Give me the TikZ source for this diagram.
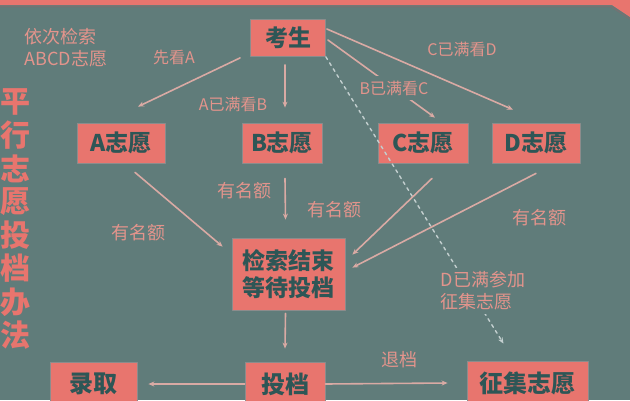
\documentclass[tikz,border=0pt]{standalone}
\usepackage{fontspec}
\setmainfont{Noto Sans CJK SC}
\usetikzlibrary{arrows.meta}
\definecolor{bgteal}{HTML}{607C7A}
\definecolor{boxred}{HTML}{E8756E}
\definecolor{boxtext}{HTML}{2E5656}
\definecolor{arrowpink}{HTML}{D9AAA4}
\definecolor{labelpink}{HTML}{E3948C}
\definecolor{dotgray}{HTML}{C3CFCF}
\begin{document}
\begin{tikzpicture}[x=1pt, y=-1pt, line join=round, line cap=round, >={Stealth[length=6pt,width=5pt]},
	box/.style={draw=black!45, line width=0.8pt, fill=boxred, text=boxtext, inner sep=0pt, align=center,
		font=\fontsize{23}{27}\selectfont\bfseries},
	lowbox/.style={box, minimum height=44pt, font=\fontsize{24}{28}\selectfont\bfseries},
	lbl/.style={text=labelpink, inner sep=1pt, font=\fontsize{18}{22}\selectfont},
	smalllbl/.style={lbl, font=\fontsize{16}{20}\selectfont},
	titlechar/.style={text=boxred, inner sep=0pt, font=\fontsize{30}{30}\selectfont\bfseries},
	arr/.style={->, draw=arrowpink, line width=1.6pt},
	dots/.style={->, draw=dotgray, line width=1.4pt, dash pattern=on 3pt off 4pt}]
	\clip (0,0) rectangle (630,400);
	\fill[bgteal] (0,0) rectangle (630,400);
	\fill[boxred] (0,0) -- (630,0) -- (630,17) -- (612,5) -- (0,5) -- cycle;
	\draw[black!55, line width=1.5pt] (0,6.5) -- (611,6.5) -- (630,19);
	% title
	\foreach \c [count=\i] in {平,行,志,愿,投,档,办,法}
	\node[titlechar] (t\i) at (15,{102+33.3*(\i-1)}) {\c};
	\node[lbl, align=left] (order) at (66,48) {依次检索\\ABCD志愿};
	% boxes
	\node[box, minimum width=75pt, minimum height=37pt] (ks) at (288,38) {考生};
	\node[box, minimum width=88pt, minimum height=40pt] (A) at (121,143) {A志愿};
	\node[box, minimum width=80pt, minimum height=40pt] (B) at (282,143) {B志愿};
	\node[box, minimum width=90pt, minimum height=40pt] (C) at (423,143) {C志愿};
	\node[box, minimum width=88pt, minimum height=40pt] (D) at (536,143) {D志愿};
	\node[box, minimum width=113pt, minimum height=72pt] (js) at (288.5,274) {检索结束\\等待投档};
	\node[lowbox, minimum width=87pt] (lq) at (93.5,384) {录取};
	\node[lowbox, minimum width=80pt] (td) at (285,384) {投档};
	\node[lowbox, minimum width=121pt] (zj) at (527.5,383) {征集志愿};
	% connectors
	\draw[dots] (ks.south east) -- ([xshift=-24pt,yshift=17pt]zj.north);
	\draw[arr] ([xshift=-10pt,yshift=-1pt]ks.south west) -- ([xshift=17pt,yshift=16pt]A.north);
	\draw[arr] ([xshift=-3pt,yshift=-8pt]ks.south) -- ([xshift=3pt,yshift=15pt]B.north);
	\draw[arr] ([xshift=2pt,yshift=-2pt]ks.east) -- ([xshift=12pt,yshift=5pt]C.north);
	\draw[arr] ([xshift=1pt,yshift=9pt]ks.east) -- ([xshift=-23pt,yshift=13pt]D.north);
	\draw[arr] ([xshift=14pt,yshift=-9pt]A.south) -- ([xshift=-9pt,yshift=-9pt]js.north west);
	\draw[arr] ([xshift=3pt,yshift=-15pt]B.south) -- ([xshift=-3pt,yshift=18pt]js.north);
	\draw[arr] ([xshift=9pt,yshift=-15pt]C.south) -- ([xshift=7pt,yshift=-17pt]js.north east);
	\draw[arr] ([yshift=-10pt]D.south) -- ([xshift=7pt,yshift=-30pt]js.north east);
	\draw[arr] ([xshift=-3pt,yshift=-3pt]js.south) -- ([yshift=13pt]td.north);
	\draw[arr] (td.west) -- ([xshift=11pt]lq.east);
	\draw[arr] (td.east) -- ([xshift=-19pt]zj.west);
	% labels
	\node[smalllbl] (la) at (174,57) {先看A};
	\node[smalllbl] (lb) at (233,104) {A已满看B};
	\node[smalllbl, fill=bgteal, inner sep=5pt] (lc) at (394,88) {B已满看C};
	\node[smalllbl] (ld) at (462,49) {C已满看D};
	\node[lbl] (ma) at (138,233) {有名额};
	\node[lbl] (mb) at (244,191) {有名额};
	\node[lbl] (mc) at (334,210) {有名额};
	\node[lbl] (md) at (539,218) {有名额};
	\node[lbl, align=left, fill=bgteal, inner sep=4pt] (lz) at (483,291) {D已满参加\\征集志愿};
	\node[lbl] (lt) at (399,360) {退档};
\end{tikzpicture}
\end{document}
